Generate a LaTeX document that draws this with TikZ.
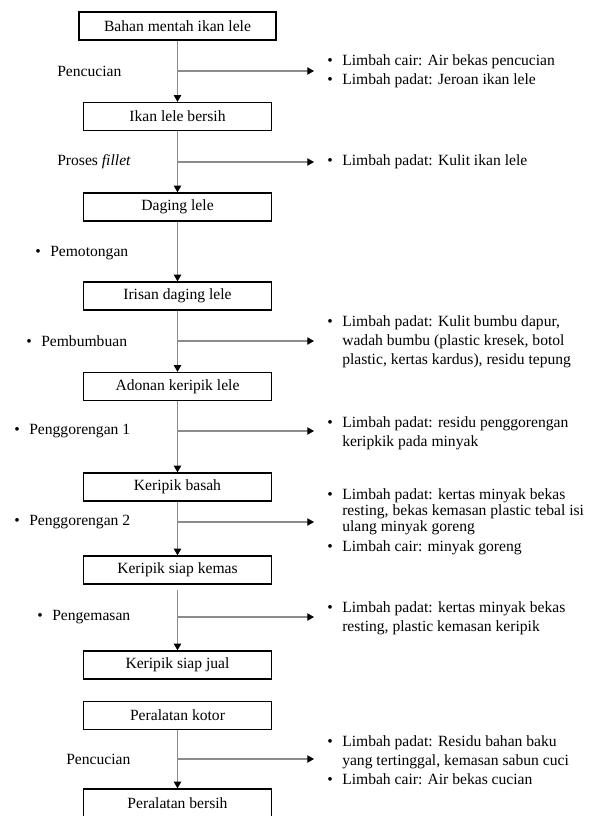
\documentclass[tikz,border=0pt]{standalone}
\usepackage{fontspec}
\setmainfont{Liberation Serif}
\usetikzlibrary{arrows.meta}
\definecolor{linegray}{rgb}{0.55,0.55,0.55}
\newcommand{\fs}{\fontsize{11.7}{14.25}\selectfont}
\newcommand{\fst}{\fontsize{11.7}{12}\selectfont}
\newcommand{\bul}{\makebox[11.25pt][l]{\textbullet}}
\newcommand{\ind}{\hspace*{11.25pt}}
\begin{document}
\begin{tikzpicture}[x=0.75pt,y=-0.75pt,
  box/.style={draw=black,line width=1pt,minimum width=141pt,minimum height=21pt,inner sep=0pt,font=\fs},
  flow/.style={draw=linegray,line width=0.8pt,-{Triangle[length=5pt,width=5.5pt,color=black]}},
  lbl/.style={anchor=west,inner sep=0pt,font=\fs,align=left}]
\useasboundingbox (0,0) rectangle (598,816);
% boxes
\node[box,minimum width=147.75pt] (b1) at (177.5,26) {Bahan mentah ikan lele};
\node[box] (b2) at (177.5,116.5) {Ikan lele bersih};
\node[box] (b3) at (177.5,207) {Daging lele};
\node[box] (b4) at (177.5,296) {Irisan daging lele};
\node[box] (b5) at (177.5,386.5) {Adonan keripik lele};
\node[box] (b6) at (177.5,487) {Keripik basah};
\node[box] (b7) at (177.5,570) {Keripik siap kemas};
\node[box] (b8) at (177.5,665) {Keripik siap jual};
\node[box] (b9) at (177.5,715.5) {Peralatan kotor};
\node[box] (b10) at (177.5,803) {Peralatan bersih};
% vertical flow
\draw[flow] (b1) -- (b2);
\draw[flow] (b2) -- (b3);
\draw[flow] (b3) -- (b4);
\draw[flow] (b4) -- (b5);
\draw[flow] (b5) -- (b6);
\draw[flow] (b6) -- (b7);
\draw[flow,shorten <=4pt] (b7) -- (b8);
\draw[flow] (b9) -- (b10);
% junctions and ends
\coordinate (j1) at (177.5,71);  \coordinate (e1) at (314,71);
\coordinate (j2) at (177.5,162); \coordinate (e2) at (314,162);
\coordinate (j3) at (177.5,341); \coordinate (e3) at (314,341);
\coordinate (j4) at (177.5,431); \coordinate (e4) at (314,431);
\coordinate (j5) at (177.5,522); \coordinate (e5) at (314,522);
\coordinate (j6) at (177.5,617); \coordinate (e6) at (314,617);
\coordinate (j7) at (177.5,759); \coordinate (e7) at (314,759);
\draw[flow] (j1) -- (e1);
\draw[flow] (j2) -- (e2);
\draw[flow] (j3) -- (e3);
\draw[flow] (j4) -- (e4);
\draw[flow] (j5) -- (e5);
\draw[flow] (j6) -- (e6);
\draw[flow] (j7) -- (e7);
% left labels
\node[lbl] (l1) at (57,71) {Pencucian};
\node[lbl] (l2) at (57,162) {Proses \textit{fillet}};
\node[lbl] (l3) at (35,253) {\bul Pemotongan};
\node[lbl] (l4) at (26,341) {\bul Pembumbuan};
\node[lbl] (l5) at (14,431) {\bul Penggorengan 1};
\node[lbl] (l6) at (14,522) {\bul Penggorengan 2};
\node[lbl] (l7) at (37,617) {\bul Pengemasan};
\node[lbl] (l8) at (66,759) {Pencucian};
% right texts
\node[lbl] (r1) at (327,71.5) {\bul Limbah cair: Air bekas pencucian\\\bul Limbah padat: Jeroan ikan lele};
\node[lbl] (r2) at (327,162) {\bul Limbah padat: Kulit ikan lele};
\node[lbl] (r3) at (327,342) {\bul Limbah padat: Kulit bumbu dapur,\\\ind wadah bumbu (plastic kresek, botol\\\ind plastic, kertas kardus), residu tepung};
\node[lbl] (r4) at (327,433) {\bul Limbah padat: residu penggorengan\\\ind keripkik pada minyak};
\node[lbl,font=\fst] (r5) at (327,522) {\bul Limbah padat: kertas minyak bekas\\\ind resting, bekas kemasan plastic tebal isi\\\ind ulang minyak goreng\\[3pt]\bul Limbah cair: minyak goreng};
\node[lbl] (r6) at (327,618) {\bul Limbah padat: kertas minyak bekas\\\ind resting, plastic kemasan keripik};
\node[lbl] (r7) at (327,760) {\bul Limbah padat: Residu bahan baku\\\ind yang tertinggal, kemasan sabun cuci\\\bul Limbah cair: Air bekas cucian};
\end{tikzpicture}
\end{document}
